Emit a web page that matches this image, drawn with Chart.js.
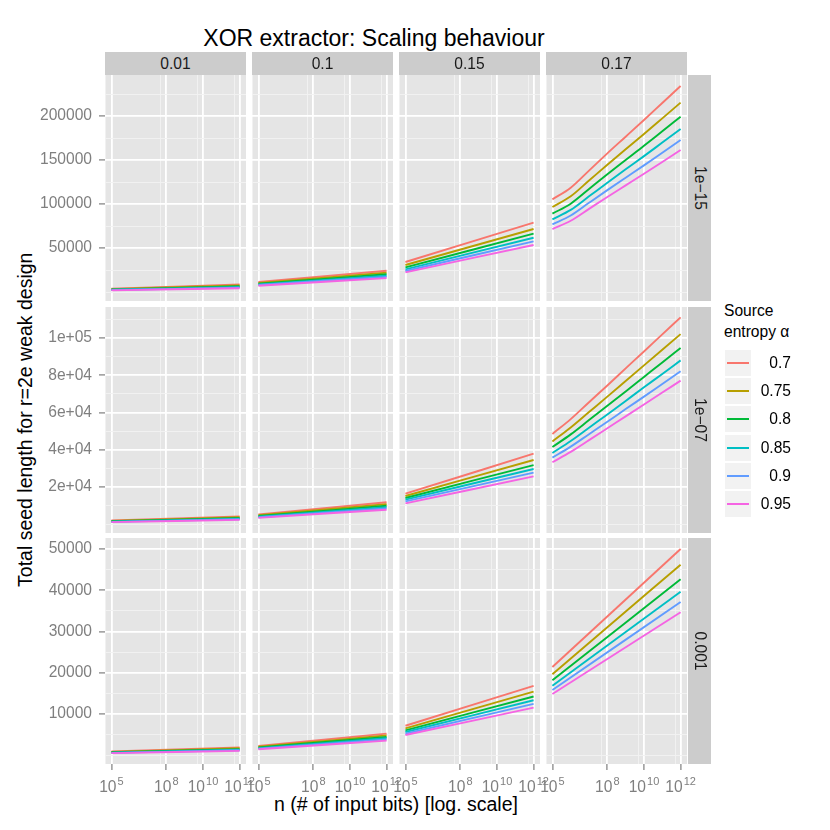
<!DOCTYPE html>
<html>
<head>
<meta charset="utf-8">
<script src="https://cdn.jsdelivr.net/npm/chart.js@4.4.1/dist/chart.umd.min.js"></script>
<style>
  html, body { margin: 0; padding: 0; background: #fff; }
  #plot { position: relative; width: 830px; height: 830px; overflow: hidden;
          font-family: "Liberation Sans", Arial, sans-serif; color: #000; }
  #plot canvas { position: absolute; }
  .strip { position: absolute; background: #cccccc; color: #1a1a1a; font-size: 15.6px;
           display: flex; align-items: center; justify-content: center; }
  .strip.side span { transform: rotate(90deg); white-space: nowrap; display: inline-block; }
  .title { position: absolute; left: 0; width: 748px; top: 26.5px; font-size: 23px;
           line-height: 23px; text-align: center; }
  .xtitle { position: absolute; left: 96px; width: 600px; top: 794.5px; font-size: 19.5px;
            line-height: 19.5px; text-align: center; }
  .ytitle { position: absolute; left: -324.5px; width: 700px; top: 409.75px; font-size: 19.5px;
            line-height: 19.5px; text-align: center; transform: rotate(-90deg); white-space: nowrap; }
  .legtitle { position: absolute; left: 724px; top: 300px; font-size: 15.6px; line-height: 21px; }
  .key { position: absolute; left: 724px; width: 28px; height: 28px; background: #f2f2f2;
         border: 1px solid #fff; box-sizing: border-box; }
  .key div { position: absolute; left: 2px; right: 2px; top: 12px; height: 2px; }
  .keylab { position: absolute; left: 752px; width: 39px; height: 28px; line-height: 28px;
            font-size: 15.6px; text-align: right; }
</style>
</head>
<body>
<div id="plot">
  <div class="title">XOR extractor: Scaling behaviour</div>
  <div class="ytitle">Total seed length for r=2e weak design</div>
  <div class="xtitle">n (# of input bits) [log. scale]</div>
  <div class="legtitle">Source<br>entropy &alpha;</div>
</div>
<script>
// facets and series
const alphas = ["0.7", "0.75", "0.8", "0.85", "0.9", "0.95"];
const lineColors = ["#F8766D", "#B79F00", "#00BA38", "#00BFC4", "#619CFF", "#F564E3"];
const rates = ["0.01", "0.1", "0.15", "0.17"];
const epsilons = ["1e\u221215", "1e\u221207", "0.001"];

// n values the series are read at
const nEnds = [1e5, 1e12];
const nDecades = [1e5, 1e6, 1e7, 1e8, 1e9, 1e10, 1e11, 1e12];

// axis ticks
const xTickValues = [1e5, 1e8, 1e10, 1e12];
const xTickBase = "10";
const xTickExponents = ["5", "8", "10", "12"];
const xMinorValues = [5e4, 5e7, 5e9, 5e11];

const yTickValues1 = [50000, 100000, 150000, 200000];
const yTickLabels1 = ["50000", "100000", "150000", "200000"];
const yMinorValues1 = [0, 25000, 75000, 125000, 175000, 225000];
const yTickValues2 = [20000, 40000, 60000, 80000, 100000];
const yTickLabels2 = ["2e+04", "4e+04", "6e+04", "8e+04", "1e+05"];
const yMinorValues2 = [0, 10000, 30000, 50000, 70000, 90000, 110000];
const yTickValues3 = [10000, 20000, 30000, 40000, 50000];
const yTickLabels3 = ["10000", "20000", "30000", "40000", "50000"];
const yMinorValues3 = [0, 5000, 15000, 25000, 35000, 45000];

const yRange1 = [-10200, 246600];
const yRange2 = [-4840, 116700];
const yRange3 = [-2180, 52670];

// seed lengths, one row per alpha (eps = 1e-15)
const eps15_r001 = [[3800, 8500], [3310, 7410], [2890, 6480], [2530, 5690], [2220, 5010], [1900, 4300]];
const eps15_r01 = [[11400, 24200], [10310, 22020], [9380, 20170], [8590, 18570], [7910, 17230], [7200, 15800]];
const eps15_r015 = [[34100, 78800], [30700, 71600], [28000, 66300], [25800, 61700], [23900, 57600], [22400, 53400]];
const eps15_r017 = [
  [105300, 118500, 138000, 157600, 176500, 195500, 214800, 234100],
  [96600, 108800, 126700, 144700, 162200, 179500, 197300, 215200],
  [89000, 100400, 117100, 133800, 150000, 166100, 182700, 199200],
  [82600, 93300, 108700, 124200, 139400, 154400, 169800, 185200],
  [76900, 86900, 101400, 115800, 129900, 143900, 158300, 172700],
  [71600, 81000, 94500, 108000, 121200, 134400, 147800, 161400]
];
// eps = 1e-07
const eps07_r001 = [[1900, 4100], [1670, 3610], [1470, 3190], [1300, 2830], [1150, 2520], [1000, 2200]];
const eps07_r01 = [[5200, 11700], [4710, 10660], [4290, 9780], [3930, 9020], [3620, 8380], [3300, 7700]];
const eps07_r015 = [[16300, 37800], [15050, 34400], [14000, 31700], [13100, 29600], [12200, 27600], [11100, 25600]];
const eps07_r017 = [
  [48400, 56400, 65500, 74500, 83700, 92800, 102000, 111100],
  [44400, 51900, 60200, 68500, 76900, 85300, 93700, 102100],
  [41400, 48200, 55900, 63600, 71300, 79100, 86900, 94600],
  [38200, 44600, 51800, 58900, 66200, 73500, 80700, 88000],
  [35700, 41600, 48300, 55000, 61800, 68500, 75300, 82100],
  [33200, 38800, 45100, 51500, 57900, 64300, 70700, 77100]
];
// eps = 0.001
const eps001_r001 = [[860, 1850], [750, 1630], [660, 1440], [590, 1280], [520, 1140], [450, 1000]];
const eps001_r01 = [[2200, 5200], [1990, 4760], [1820, 4380], [1660, 4060], [1540, 3790], [1400, 3500]];
const eps001_r015 = [[7100, 16800], [6470, 15400], [6000, 14200], [5580, 13300], [5170, 12400], [4850, 11500]];
const eps001_r017 = [[21360, 50000], [19580, 46200], [18130, 42640], [16820, 39640], [15780, 37140], [14800, 34640]];

const panelData = [
  [eps15_r001, eps15_r01, eps15_r015, eps15_r017],
  [eps07_r001, eps07_r01, eps07_r015, eps07_r017],
  [eps001_r001, eps001_r01, eps001_r015, eps001_r017]
];
const yTickValues = [yTickValues1, yTickValues2, yTickValues3];
const yTickLabels = [yTickLabels1, yTickLabels2, yTickLabels3];
const yMinorValues = [yMinorValues1, yMinorValues2, yMinorValues3];
const yRanges = [yRange1, yRange2, yRange3];

// layout
const colLeft = [105, 252, 399, 546];
const rowTop = [75, 307, 538];
const panelW = 141, panelH = 226;
const yAxisW = 105, xAxisH = 48;
const padX = 24, padY = 4;

const fontFamily = "'Liberation Sans', Arial, sans-serif";
Chart.defaults.font.family = fontFamily;
const tickFont = { size: 15.6 };
const plot = document.getElementById("plot");

const panelBackground = {
  id: "panelBackground",
  beforeDraw(chart) {
    const a = chart.chartArea, ctx = chart.ctx;
    ctx.save();
    ctx.fillStyle = "#E5E5E5";
    ctx.fillRect(a.left, a.top, a.right - a.left, a.bottom - a.top);
    ctx.restore();
  }
};

// 10^k labels under the bottom row, exponent raised and smaller
const powerLabels = {
  id: "powerLabels",
  afterDraw(chart) {
    const s = chart.scales.x, ctx = chart.ctx;
    const y = s.top + 27.5;
    ctx.save();
    ctx.fillStyle = "#7F7F7F";
    ctx.textBaseline = "alphabetic";
    ctx.textAlign = "left";
    xTickValues.forEach((v, i) => {
      const px = s.getPixelForValue(v);
      ctx.font = "15.6px " + fontFamily;
      const wb = ctx.measureText(xTickBase).width;
      ctx.font = "11px " + fontFamily;
      const we = ctx.measureText(xTickExponents[i]).width;
      const x0 = px - (wb + we + 1) / 2;
      ctx.font = "15.6px " + fontFamily;
      ctx.fillText(xTickBase, x0, y);
      ctx.font = "11px " + fontFamily;
      ctx.fillText(xTickExponents[i], x0 + wb + 1, y - 7);
    });
    ctx.restore();
  }
};

function gridFor(major, withTicks) {
  const isMajor = c => !!c.tick && major.includes(c.tick.value);
  return {
    color: c => isMajor(c) ? "#FFFFFF" : "#F2F2F2",
    lineWidth: c => isMajor(c) ? 1.8 : 0.9,
    drawTicks: withTicks,
    tickLength: 6,
    tickWidth: 1.2,
    tickColor: c => isMajor(c) ? "#7F7F7F" : "rgba(0,0,0,0)"
  };
}

function xScale(showLabels) {
  return {
    type: "logarithmic",
    min: Math.pow(10, 4.65),
    max: Math.pow(10, 12.35),
    afterBuildTicks: s => {
      s.ticks = xMinorValues.map(v => ({ value: v })).concat(xTickValues.map(v => ({ value: v })));
    },
    afterFit: s => { s.height = showLabels ? xAxisH : 0; s.paddingLeft = 0; s.paddingRight = 0; },
    ticks: { display: false, autoSkip: false },
    grid: gridFor(xTickValues, showLabels),
    border: { display: false }
  };
}

function yScale(r, showLabels) {
  const major = yTickValues[r], minor = yMinorValues[r], labels = yTickLabels[r];
  return {
    type: "linear",
    min: yRanges[r][0],
    max: yRanges[r][1],
    afterBuildTicks: s => {
      s.ticks = minor.map(v => ({ value: v })).concat(major.map(v => ({ value: v })));
    },
    afterFit: s => { s.width = showLabels ? yAxisW : 0; s.paddingTop = 0; s.paddingBottom = 0; },
    ticks: {
      display: showLabels, autoSkip: false, padding: 7, color: "#7F7F7F", font: tickFont,
      callback: v => { const i = major.indexOf(v); return i < 0 ? "" : labels[i]; }
    },
    grid: gridFor(major, showLabels),
    border: { display: false }
  };
}

function makePanel(r, c) {
  const left = c === 0, bottom = r === 2;
  const values = panelData[r][c];
  const xs = values[0].length === nDecades.length ? nDecades : nEnds;
  const w = (left ? yAxisW : 0) + panelW + 2 * padX;
  const h = panelH + (bottom ? xAxisH : 0) + 2 * padY;

  const canvas = document.createElement("canvas");
  canvas.width = w;
  canvas.height = h;
  canvas.style.left = (colLeft[c] - (left ? yAxisW : 0) - padX) + "px";
  canvas.style.top = (rowTop[r] - padY) + "px";
  canvas.style.width = w + "px";
  canvas.style.height = h + "px";
  plot.appendChild(canvas);

  new Chart(canvas.getContext("2d"), {
    type: "line",
    data: {
      datasets: alphas.map((a, k) => ({
        label: a,
        data: xs.map((x, i) => ({ x: x, y: values[k][i] })),
        borderColor: lineColors[k],
        borderWidth: 1.9,
        pointRadius: 0,
        fill: false,
        cubicInterpolationMode: "monotone",
        order: alphas.length - k
      }))
    },
    options: {
      responsive: false,
      animation: false,
      events: [],
      layout: { padding: { left: padX, right: padX, top: padY, bottom: padY } },
      plugins: { legend: { display: false }, tooltip: { enabled: false } },
      scales: { x: xScale(bottom), y: yScale(r, left) }
    },
    plugins: bottom ? [panelBackground, powerLabels] : [panelBackground]
  });
}

for (let r = 0; r < 3; r++) {
  for (let c = 0; c < 4; c++) makePanel(r, c);
}

// facet strips
rates.forEach((t, c) => {
  const d = document.createElement("div");
  d.className = "strip";
  d.style.cssText = `left:${colLeft[c]}px;top:52px;width:${panelW}px;height:23px;`;
  d.textContent = t;
  plot.appendChild(d);
});
epsilons.forEach((t, r) => {
  const d = document.createElement("div");
  d.className = "strip side";
  d.style.cssText = `left:688px;top:${rowTop[r]}px;width:23px;height:${panelH}px;`;
  const s = document.createElement("span");
  s.textContent = t;
  d.appendChild(s);
  plot.appendChild(d);
});

// legend
alphas.forEach((a, k) => {
  const top = Math.round(349 + k * 28.2);
  const key = document.createElement("div");
  key.className = "key";
  key.style.top = top + "px";
  const ln = document.createElement("div");
  ln.style.background = lineColors[k];
  key.appendChild(ln);
  plot.appendChild(key);
  const lab = document.createElement("div");
  lab.className = "keylab";
  lab.style.top = top + "px";
  lab.textContent = a;
  plot.appendChild(lab);
});
</script>
</body>
</html>
